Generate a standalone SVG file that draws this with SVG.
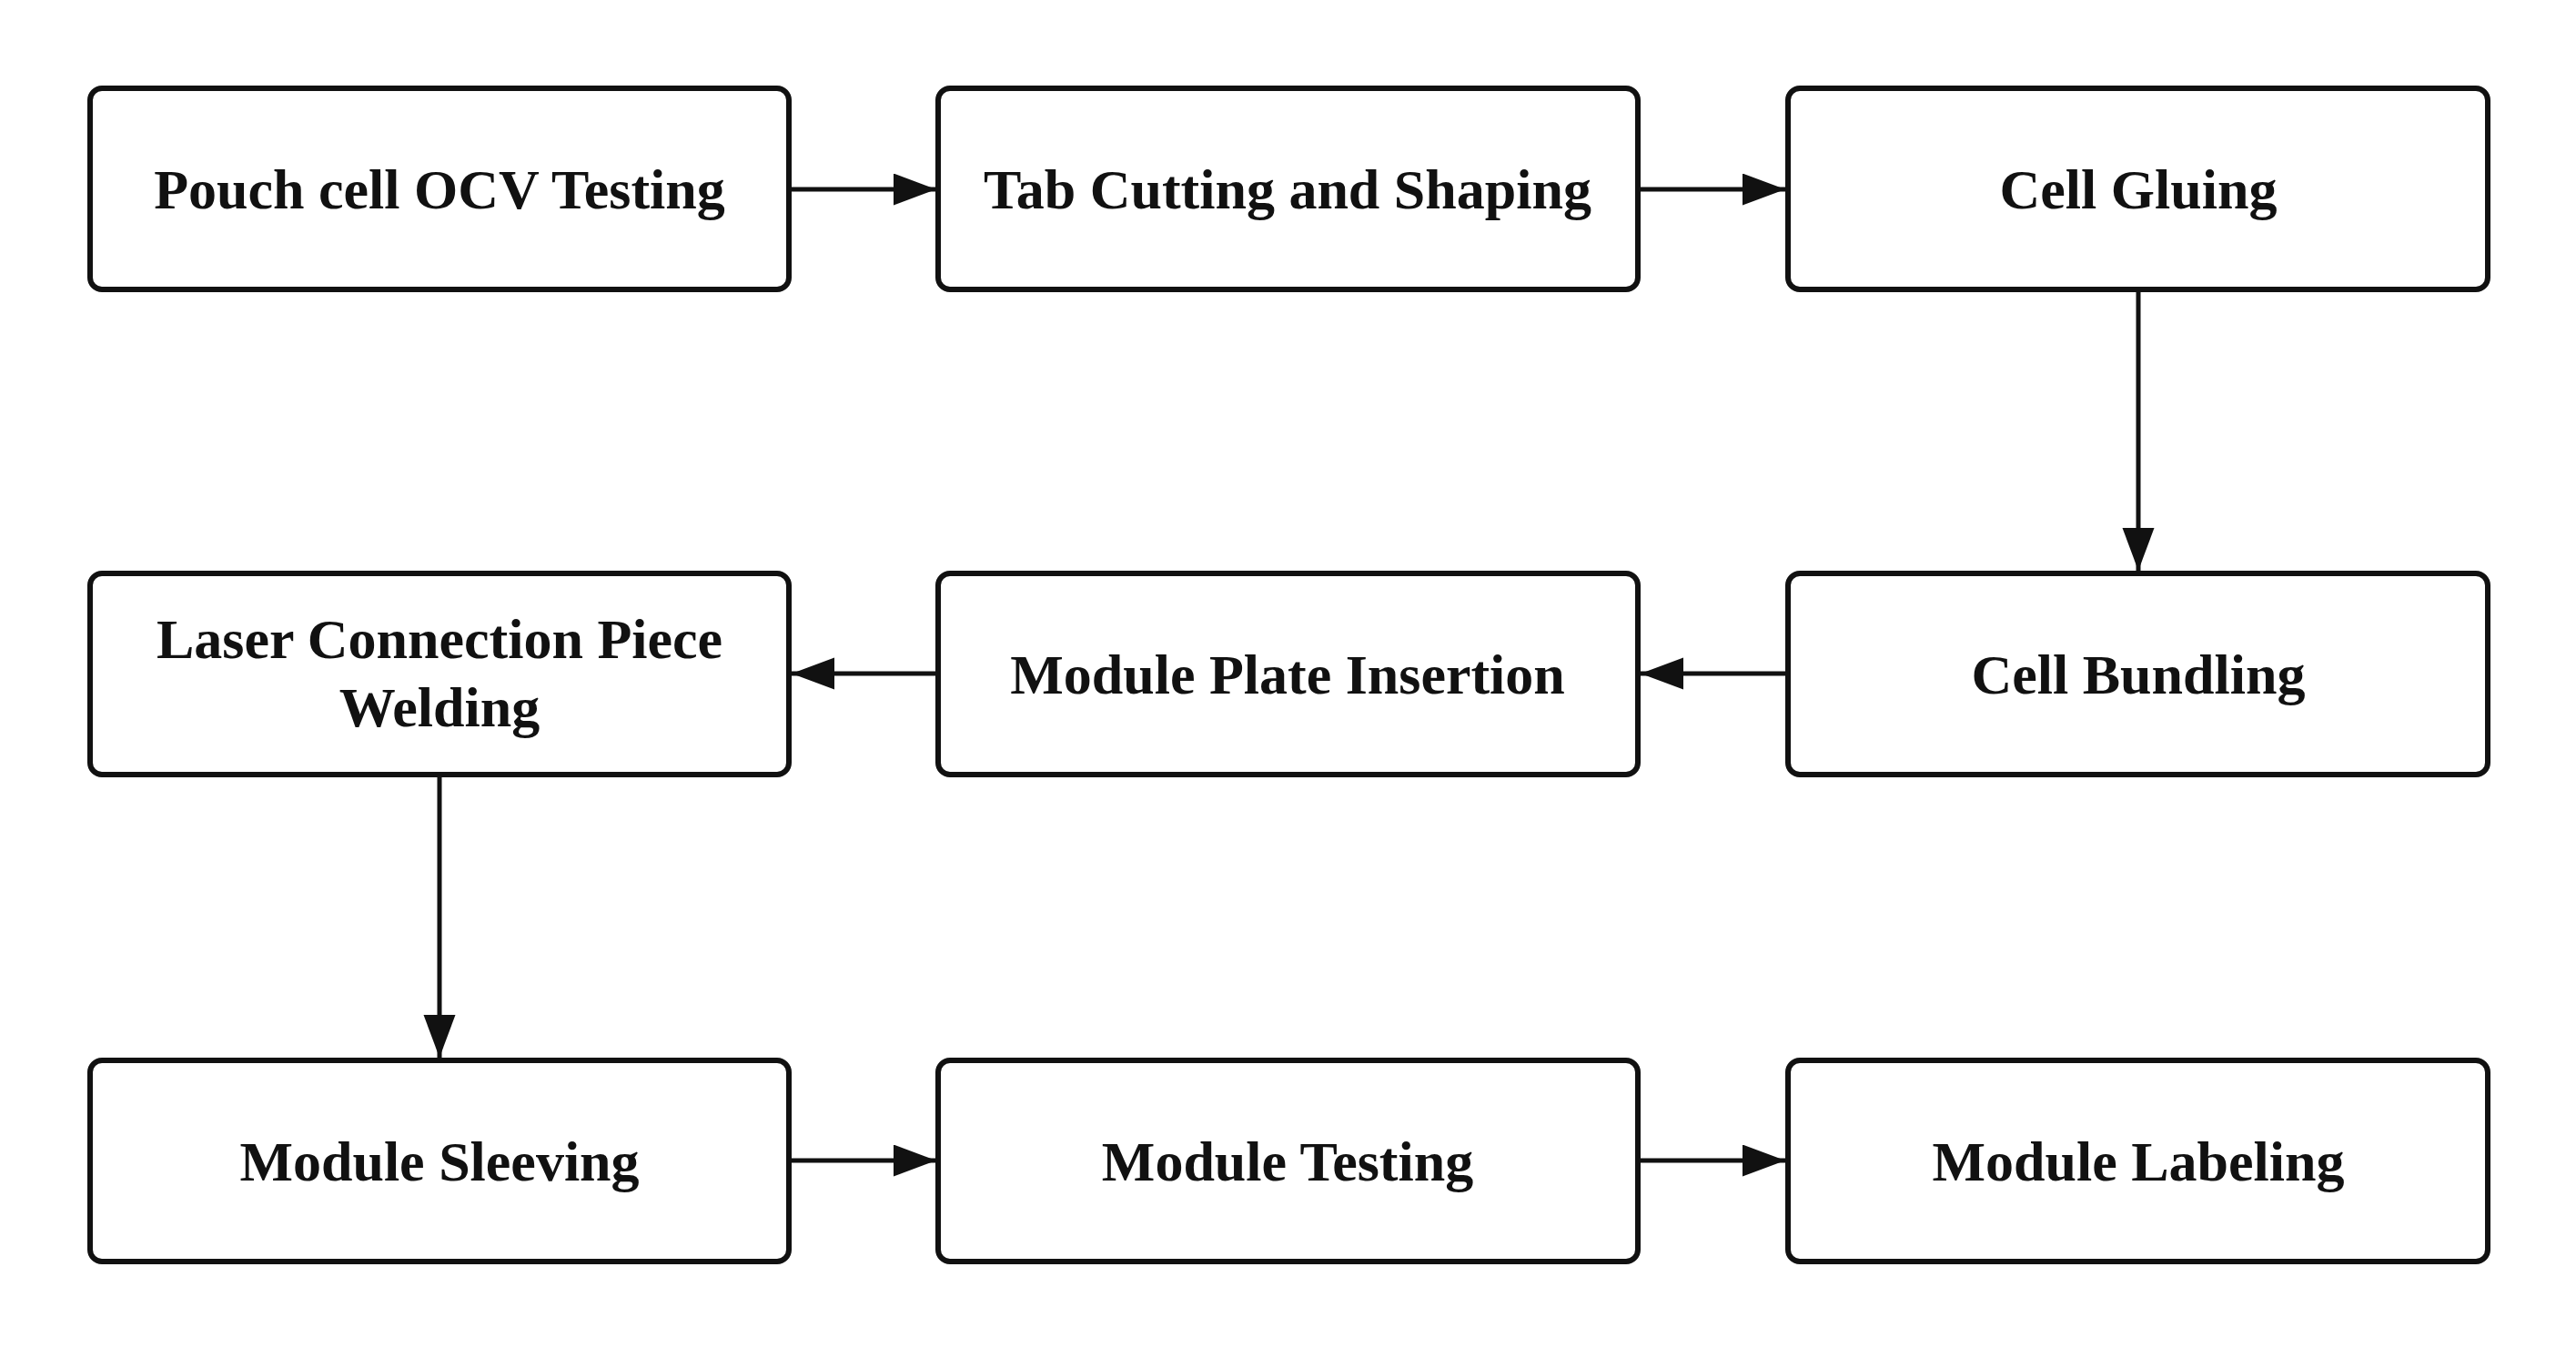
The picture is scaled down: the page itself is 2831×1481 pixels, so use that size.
<svg xmlns="http://www.w3.org/2000/svg" width="2831" height="1481" viewBox="0 0 2831 1481">
<style>
.box{fill:#fff;stroke:#111;stroke-width:6}
.lbl{font-family:"Liberation Serif","Times New Roman",serif;font-weight:bold;font-size:62px;fill:#111;text-anchor:middle}
.edge{stroke:#111;stroke-width:5;fill:none;marker-end:url(#ah)}
</style>
<defs>
<marker id="ah" markerUnits="userSpaceOnUse" markerWidth="48" markerHeight="36" refX="47" refY="17.5" orient="auto">
<path d="M0,0 L47,17.5 L0,35 Z" fill="#111"/>
</marker>
</defs>
<rect width="2831" height="1481" fill="#fff"/>
<g id="connectors">
<line class="edge" x1="867" y1="208" x2="1029" y2="208"/>
<line class="edge" x1="1800" y1="208" x2="1962" y2="208"/>
<line class="edge" x1="2350" y1="318" x2="2350" y2="627"/>
<line class="edge" x1="1965" y1="740" x2="1803" y2="740"/>
<line class="edge" x1="1031" y1="740" x2="870" y2="740"/>
<line class="edge" x1="483" y1="851" x2="483" y2="1162"/>
<line class="edge" x1="867" y1="1275" x2="1029" y2="1275"/>
<line class="edge" x1="1800" y1="1275" x2="1962" y2="1275"/>
</g>
<g id="n1"><rect class="box" x="99" y="97" width="768" height="221" rx="13"/><text class="lbl" x="483" y="229">Pouch cell OCV Testing</text></g>
<g id="n2"><rect class="box" x="1031" y="97" width="769" height="221" rx="13"/><text class="lbl" x="1415" y="229">Tab Cutting and Shaping</text></g>
<g id="n3"><rect class="box" x="1965" y="97" width="769" height="221" rx="13"/><text class="lbl" x="2350" y="229">Cell Gluing</text></g>
<g id="n4"><rect class="box" x="99" y="630" width="768" height="221" rx="13"/><text class="lbl" x="483" y="723">Laser Connection Piece</text><text class="lbl" x="483" y="798">Welding</text></g>
<g id="n5"><rect class="box" x="1031" y="630" width="769" height="221" rx="13"/><text class="lbl" x="1415" y="762">Module Plate Insertion</text></g>
<g id="n6"><rect class="box" x="1965" y="630" width="769" height="221" rx="13"/><text class="lbl" x="2350" y="762">Cell Bundling</text></g>
<g id="n7"><rect class="box" x="99" y="1165" width="768" height="221" rx="13"/><text class="lbl" x="483" y="1297">Module Sleeving</text></g>
<g id="n8"><rect class="box" x="1031" y="1165" width="769" height="221" rx="13"/><text class="lbl" x="1415" y="1297">Module Testing</text></g>
<g id="n9"><rect class="box" x="1965" y="1165" width="769" height="221" rx="13"/><text class="lbl" x="2350" y="1297">Module Labeling</text></g>
</svg>
